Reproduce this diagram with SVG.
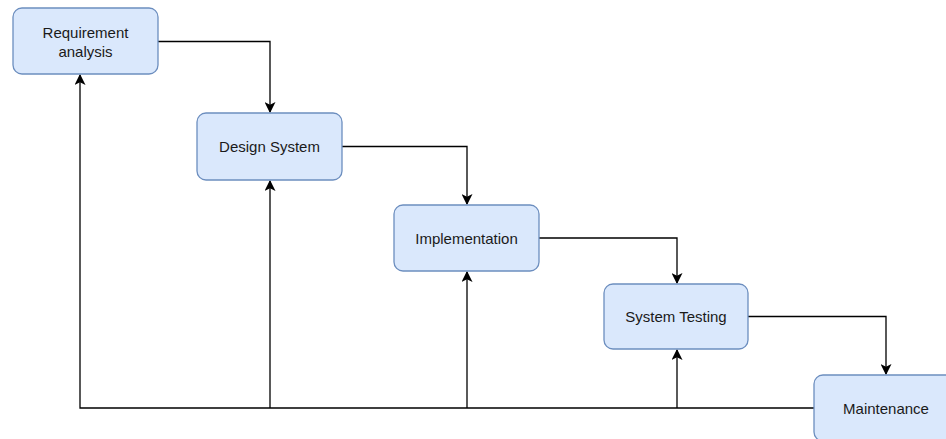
<svg xmlns="http://www.w3.org/2000/svg" width="946" height="439" viewBox="0 0 946 439">
<style>
.node rect{fill:#dae8fc;stroke:#6c8ebf;stroke-width:1.3}
.node text{font-family:"Liberation Sans",Arial,sans-serif;font-size:15px;fill:#1a1a1a;text-anchor:middle}
.conn path{fill:none;stroke:#000;stroke-width:1.3}
</style>
<defs>
<marker id="arr" viewBox="0 0 10 10" refX="9" refY="5" markerWidth="11" markerHeight="11" markerUnits="userSpaceOnUse" orient="auto">
<path d="M0,0 L10,5 L0,10 L2.5,5 Z" fill="#000"/>
</marker>
</defs>
<rect width="946" height="439" fill="#fff"/>
<g class="conn">
<path d="M158,41.5 H270 V112" marker-end="url(#arr)"/>
<path d="M342,146.5 H467 V204" marker-end="url(#arr)"/>
<path d="M539,238 H677 V283" marker-end="url(#arr)"/>
<path d="M748,316.5 H886 V374" marker-end="url(#arr)"/>
<path d="M814,408 H80 V75" marker-end="url(#arr)"/>
<path d="M270,408 V181" marker-end="url(#arr)"/>
<path d="M467,408 V272" marker-end="url(#arr)"/>
<path d="M677,408 V350" marker-end="url(#arr)"/>
</g>
<g id="requirement" class="node"><rect x="13" y="8" width="145" height="66" rx="9"/><text x="85.5" y="38">Requirement</text><text x="85.5" y="56.5">analysis</text></g>
<g id="design" class="node"><rect x="197" y="113" width="145" height="67" rx="9"/><text x="269.5" y="152">Design System</text></g>
<g id="implementation" class="node"><rect x="394" y="205" width="145" height="66" rx="9"/><text x="466.5" y="243.5">Implementation</text></g>
<g id="testing" class="node"><rect x="604" y="284" width="144" height="65" rx="9"/><text x="676" y="322">System Testing</text></g>
<g id="maintenance" class="node"><rect x="814" y="375" width="145" height="66" rx="9"/><text x="886" y="413.5">Maintenance</text></g>
</svg>
